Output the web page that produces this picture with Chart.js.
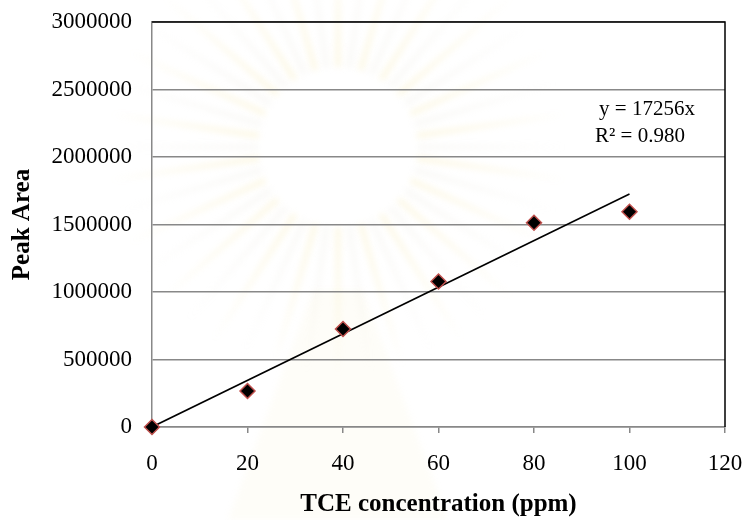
<!DOCTYPE html>
<html>
<head>
<meta charset="utf-8">
<script src="https://cdn.jsdelivr.net/npm/chart.js@4"></script>
<style>
  html, body { margin: 0; padding: 0; background: #fff; }
  #wrap { width: 744px; height: 520px; position: relative; }
</style>
</head>
<body>
<div id="wrap"><canvas id="calib-chart"></canvas></div>
<script>
// TCE calibration curve
const concentration = [0, 20, 40, 60, 80, 100];
const peakArea = [0, 267000, 726000, 1078000, 1513000, 1594000];
const trendX = [0, 100];
const trendY = [0, 1725600];
const trendLabels = ['y = 17256x', 'R\u00b2 = 0.980'];
const xTitle = 'TCE concentration (ppm)';
const yTitle = 'Peak Area';

const serif = "'Liberation Serif', 'Times New Roman', serif";

// faint emblem behind the chart
const watermark = {
    id: 'watermark',
    beforeDraw(chart) {
        const c = chart.ctx;
        c.save();
        c.fillStyle = '#fff';
        c.fillRect(0, 0, chart.width, chart.height);
        c.filter = 'blur(3px)';
        const cx = 338, cy = 147;
        const n = 44;
        for (let i = 0; i < n; i++) {
            const a = (i / n) * Math.PI * 2;
            const w = 0.032;
            c.beginPath();
            c.moveTo(cx + Math.cos(a - w) * 80, cy + Math.sin(a - w) * 80);
            c.lineTo(cx + Math.cos(a) * 230, cy + Math.sin(a) * 230);
            c.lineTo(cx + Math.cos(a + w) * 80, cy + Math.sin(a + w) * 80);
            c.closePath();
            c.fillStyle = i % 2 ? 'rgba(245, 230, 160, 0.3)' : 'rgba(225, 222, 205, 0.2)';
            c.fill();
        }
        c.fillStyle = '#fff';
        c.beginPath();
        c.arc(cx, cy, 70, 0, Math.PI * 2);
        c.fill();
        // stupa-like base
        c.fillStyle = 'rgba(240, 225, 160, 0.08)';
        c.beginPath();
        c.moveTo(cx - 25, 290);
        c.lineTo(cx + 25, 290);
        c.lineTo(cx + 110, 520);
        c.lineTo(cx - 110, 520);
        c.closePath();
        c.fill();
        c.restore();
    }
};

// black frame on top/right + trendline equation
const frameAndLabel = {
    id: 'frameAndLabel',
    afterDatasetsDraw(chart) {
        const { ctx, chartArea } = chart;
        ctx.save();
        ctx.strokeStyle = '#000';
        ctx.lineWidth = 1.5;
        ctx.beginPath();
        ctx.moveTo(chartArea.left, chartArea.top);
        ctx.lineTo(chartArea.right, chartArea.top);
        ctx.lineTo(chartArea.right, chartArea.bottom);
        ctx.stroke();

        ctx.fillStyle = '#000';
        ctx.font = "21px " + serif;
        ctx.textAlign = 'center';
        ctx.textBaseline = 'middle';
        ctx.fillText(trendLabels[0], chartArea.right - 78, chartArea.top + 87);
        ctx.fillText(trendLabels[1], chartArea.right - 85, chartArea.top + 114);
        ctx.restore();
    }
};

const gridGray = '#888888';

new Chart(document.getElementById('calib-chart'), {
    type: 'scatter',
    data: {
        datasets: [
            {
                label: 'Peak Area',
                data: concentration.map((x, i) => ({ x, y: peakArea[i] })),
                pointStyle: 'rectRot',
                pointRadius: 7.5,
                pointBackgroundColor: '#000',
                pointBorderColor: '#c0504d',
                pointBorderWidth: 1.5,
                showLine: false,
                clip: false,
                order: 1
            },
            {
                label: 'Linear',
                type: 'line',
                data: trendX.map((x, i) => ({ x, y: trendY[i] })),
                borderColor: '#000',
                borderWidth: 1.6,
                pointRadius: 0,
                fill: false,
                order: 2
            }
        ]
    },
    options: {
        responsive: true,
        maintainAspectRatio: false,
        animation: false,
        layout: { padding: { top: 22, right: 19, left: 0, bottom: 0 } },
        plugins: {
            legend: { display: false },
            tooltip: { enabled: false }
        },
        scales: {
            x: {
                type: 'linear',
                min: 0,
                max: 120,
                ticks: {
                    stepSize: 20,
                    color: '#000',
                    padding: 17,
                    font: { family: serif, size: 23 }
                },
                grid: {
                    drawOnChartArea: false,
                    drawTicks: true,
                    tickLength: 6,
                    color: gridGray,
                    lineWidth: 1.5
                },
                border: { color: gridGray, width: 1.5 },
                title: {
                    display: true,
                    text: xTitle,
                    color: '#000',
                    padding: { top: 0, bottom: 0 },
                    font: { family: serif, size: 25, weight: 'bold' }
                },
                afterFit(scale) {
                    scale.height = 93;
                    scale.paddingLeft = 0;
                    scale.paddingRight = 0;
                }
            },
            y: {
                min: 0,
                max: 3000000,
                ticks: {
                    stepSize: 500000,
                    color: '#000',
                    padding: 20,
                    font: { family: serif, size: 23 },
                    callback: v => String(v)
                },
                grid: {
                    drawTicks: false,
                    color: gridGray,
                    lineWidth: 1.5
                },
                border: { color: gridGray, width: 1.5 },
                title: {
                    display: true,
                    text: yTitle,
                    color: '#000',
                    padding: { top: 8, bottom: 0 },
                    font: { family: serif, size: 25, weight: 'bold' }
                },
                afterFit(scale) {
                    scale.width = 152;
                    scale.paddingTop = 0;
                    scale.paddingBottom = 0;
                }
            }
        }
    },
    plugins: [watermark, frameAndLabel]
});
</script>
</body>
</html>
